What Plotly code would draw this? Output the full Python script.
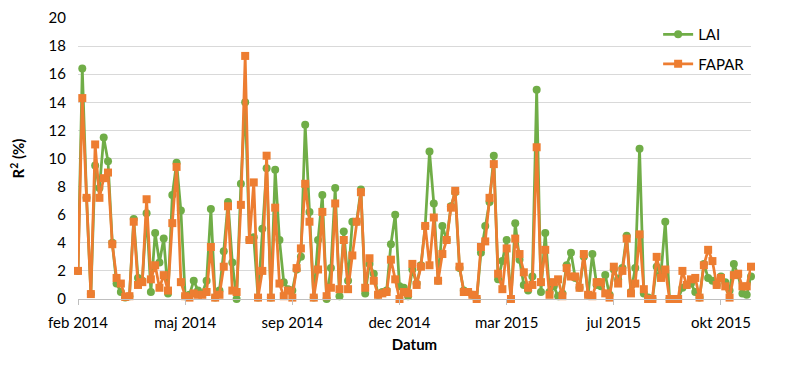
import plotly.graph_objects as go

# Values (R² in %), one per acquisition, in time order
lai = [2.0, 16.4, 7.2, 0.35, 9.5, 7.9, 11.5, 9.8, 4.0, 1.1,
       0.5, 0.1, 0.2, 5.7, 1.5, 1.3, 6.1, 0.5, 4.7, 2.6,
       4.3, 0.4, 7.4, 9.7, 6.3, 0.2, 0.3, 1.3, 0.6, 0.4,
       1.3, 6.4, 0.1, 0.6, 3.4, 6.9, 2.6, 0.0, 8.2, 14.0,
       4.2, 4.4, 0.1, 5.0, 9.3, 0.1, 9.2, 4.2, 1.2, 0.7,
       0.6, 2.1, 3.0, 12.4, 6.2, 0.1, 4.2, 7.4, 0.0, 2.2,
       7.9, 0.2, 4.8, 1.3, 5.5, 5.5, 7.8, 0.4, 2.5, 1.8,
       0.3, 0.5, 0.6, 3.9, 6.0, 0.9, 0.8, 0.2, 2.1, 1.1,
       2.4, 5.2, 10.5, 6.8, 1.3, 5.2, 4.2, 6.6, 7.6, 2.2,
       0.6, 0.5, 0.3, 0.0, 3.3, 5.2, 6.9, 10.2, 1.4, 2.7,
       4.2, 0.0, 5.4, 2.8, 1.0, 0.6, 1.6, 14.9, 0.5, 4.7,
       0.5, 0.9, 0.2, 0.4, 2.4, 3.3, 1.5, 0.8, 3.0, 0.3,
       3.2, 1.0, 0.9, 1.7, 0.3, 2.1, 1.4, 2.2, 4.5, 0.5,
       2.2, 10.7, 0.4, 0.1, 0.0, 2.3, 1.8, 5.5, 0.0, 0.0,
       0.0, 0.8, 1.0, 1.1, 0.5, 0.1, 2.5, 1.5, 1.3, 1.0,
       1.6, 1.2, 0.6, 2.5, 1.7, 0.4, 0.3, 1.6]

fapar = [2.0, 14.3, 7.2, 0.35, 11.0, 7.2, 8.6, 9.0, 3.9, 1.5,
         1.1, 0.15, 0.2, 5.5, 1.0, 1.2, 7.1, 1.4, 2.4, 0.8,
         1.7, 0.6, 5.4, 9.4, 1.2, 0.2, 0.1, 0.4, 0.3, 0.3,
         0.5, 3.7, 0.1, 0.3, 2.3, 6.6, 0.6, 0.5, 6.7, 17.3,
         4.2, 8.3, 0.1, 2.0, 10.2, 0.1, 6.5, 1.1, 0.2, 0.6,
         0.1, 2.2, 3.6, 8.2, 5.5, 0.1, 2.1, 6.2, 0.2, 0.8,
         6.8, 0.7, 4.2, 0.7, 3.1, 5.5, 7.6, 0.8, 2.9, 1.3,
         0.3, 0.4, 0.5, 2.8, 1.4, 0.0, 0.5, 0.4, 2.5, 1.0,
         2.3, 5.2, 2.4, 5.8, 1.3, 3.2, 4.2, 6.5, 7.7, 2.3,
         0.5, 0.5, 0.3, 0.0, 3.7, 4.1, 7.2, 9.6, 1.8, 0.7,
         3.6, 0.0, 4.3, 3.2, 1.9, 0.8, 1.0, 10.8, 1.2, 3.5,
         0.3, 1.2, 1.4, 0.2, 2.2, 1.6, 1.6, 0.8, 3.2, 0.3,
         0.2, 1.2, 1.2, 0.4, 0.1, 2.3, 1.1, 2.0, 4.3, 0.4,
         1.1, 4.6, 0.7, 0.0, 0.0, 3.0, 1.5, 2.1, 0.0, 0.0,
         0.0, 2.0, 1.0, 1.4, 1.5, 0.1, 2.4, 3.5, 2.7, 1.0,
         1.5, 0.9, 0.1, 1.7, 1.8, 0.9, 0.9, 2.3]

# Category positions (one per acquisition) and the date labels shown every 25th point
positions = list(range(len(lai)))
label_every = 25
tick_labels = ["feb 2014", "maj 2014", "sep 2014", "dec 2014",
               "mar 2015", "jul 2015", "okt 2015"]
tick_positions = positions[::label_every][:len(tick_labels)]

GREEN = "#70AD47"
ORANGE = "#ED7D31"
FONT = "Lato"

fig = go.Figure()
fig.add_trace(go.Scatter(
    x=positions, y=lai, name="LAI", mode="lines+markers",
    line=dict(color=GREEN, width=2.75),
    marker=dict(symbol="circle", size=8, color=GREEN),
    cliponaxis=False, legendgroup="a"))
fig.add_trace(go.Scatter(
    x=positions, y=fapar, name="FAPAR", mode="lines+markers",
    line=dict(color=ORANGE, width=2.75),
    marker=dict(symbol="square", size=8, color=ORANGE),
    cliponaxis=False, legendgroup="b"))

fig.update_layout(
    width=800, height=376,
    margin=dict(l=70, r=57, t=10, b=85, autoexpand=False),
    paper_bgcolor="white", plot_bgcolor="white",
    font=dict(family=FONT, size=15, color="#000000"),
    showlegend=True,
    legend=dict(x=0.862, y=1.0, xanchor="left", yanchor="top",
                bgcolor="rgba(0,0,0,0)", font=dict(size=15),
                traceorder="grouped", tracegroupgap=7),
    xaxis=dict(
        range=[0, len(lai) - 1],
        tickmode="array", tickvals=tick_positions, ticktext=tick_labels,
        showgrid=False, zeroline=False,
        showline=True, linecolor="#BFBFBF", linewidth=1,
        ticks="outside", ticklen=5, tickcolor="#BFBFBF",
        ticklabelstandoff=5,
        tickfont=dict(size=15),
        automargin=False,
        title=dict(text="<b>Datum</b>", font=dict(size=15), standoff=9),
    ),
    yaxis=dict(
        range=[0, 20], dtick=2, tick0=0,
        showgrid=True, gridcolor="#D9D9D9", gridwidth=1,
        zeroline=False, showline=False, ticks="",
        tickfont=dict(size=15),
        ticklabelstandoff=11,
        automargin=False,
        title=dict(text="<b>R<sup>2</sup> (%)</b>", font=dict(size=15), standoff=27),
    ),
)

fig.write_html("out.html")
